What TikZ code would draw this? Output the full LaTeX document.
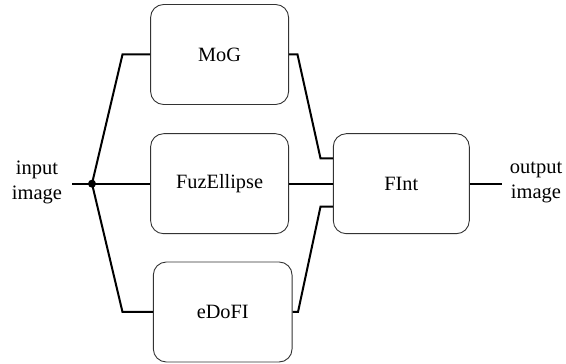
\documentclass[tikz,border=0pt]{standalone}
\usepackage{fontspec}
\setmainfont{Liberation Serif}
\begin{document}
\begin{tikzpicture}[x=1pt,y=1pt,
  blk/.style={draw=black!80,line width=0.9pt,rounded corners=13pt,minimum width=138pt,minimum height=100pt,font=\fontsize{20.3}{24}\selectfont,inner sep=0pt},
  wire/.style={line width=2pt},
  lbl/.style={align=center,font=\fontsize{20.5}{25}\selectfont,inner sep=0pt}]
\useasboundingbox (0,0) rectangle (566,364);
\node[blk] (mog) at (219.6,309.5) {MoG};
\node[blk] (fuz) at (219.6,180.3) {FuzEllipse};
\node[blk,minimum width=138.7pt] (edofi) at (222.7,52) {eDoFI};
\node[blk,minimum width=136pt] (fint) at (401.3,180.3) {FInt};
\node[lbl] (in) at (37,182) {input\\image};
\node[lbl] (out) at (536,182) {output\\image};
\coordinate (s) at (72,180.3);
\coordinate (j) at (92,180.3);
\coordinate (e) at (502,180.3);
\coordinate (ul) at (122.5,309.5);
\coordinate (ll) at (122.5,52);
\coordinate (ur1) at (297.5,309.5);
\coordinate (ur2) at (320.5,205.7);
\coordinate (lr1) at (298,52);
\coordinate (lr2) at (320.5,157.3);
\draw[wire] (s) -- (j) -- (fuz.west);
\draw[wire] (j) -- (ul) -- (mog.west);
\draw[wire] (j) -- (ll) -- (edofi.west);
\draw[wire] (mog.east) -- (ur1) -- (ur2) -- (fint.west |- ur2);
\draw[wire] (edofi.east) -- (lr1) -- (lr2) -- (fint.west |- lr2);
\draw[wire] (fuz.east) -- (fint.west);
\draw[wire] (fint.east) -- (e);
\fill (j) circle (4pt);
\end{tikzpicture}
\end{document}
